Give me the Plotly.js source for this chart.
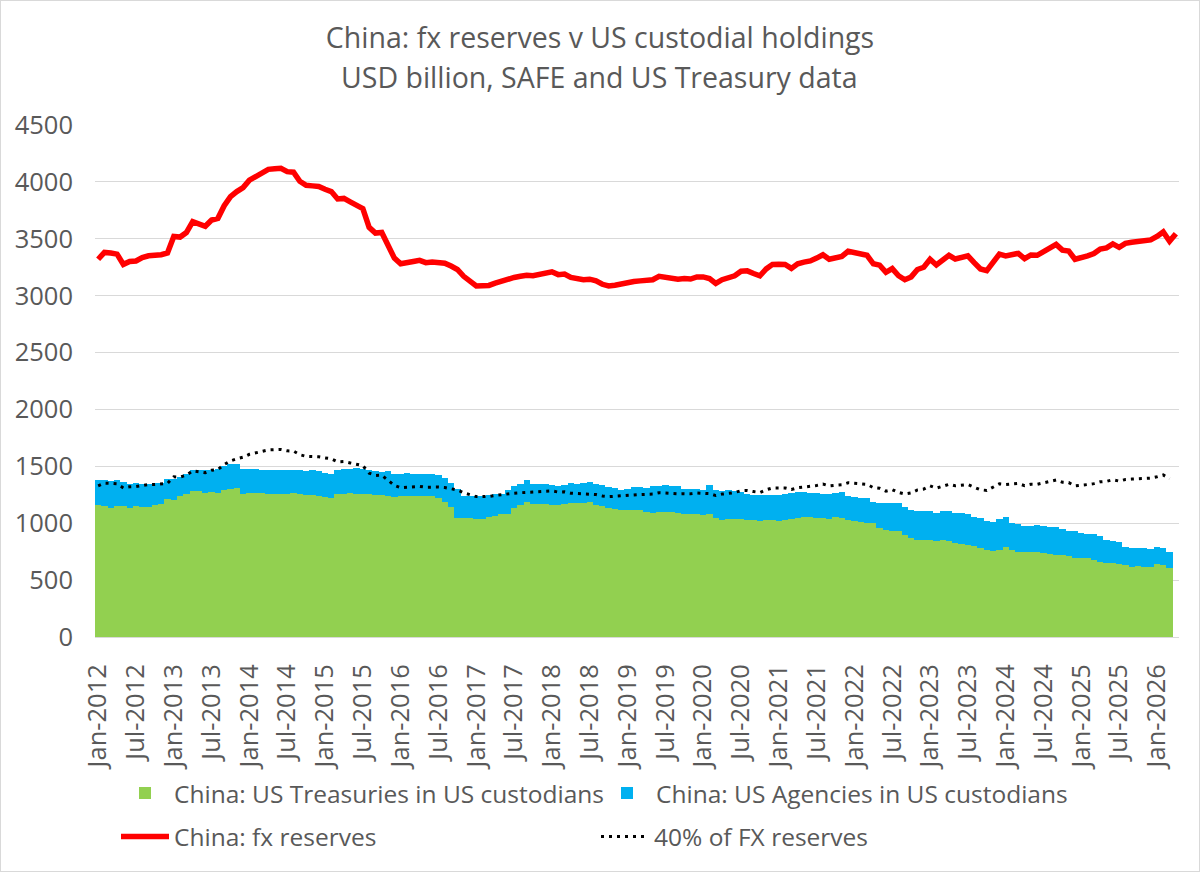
<!DOCTYPE html>
<html>
<head>
<meta charset="utf-8">
<script src="https://cdn.plot.ly/plotly-3.0.1.min.js"></script>
<style>
  html, body { margin: 0; padding: 0; background: #fff; }
  #chart { width: 1200px; height: 872px; box-sizing: border-box; border: 1px solid #d9d9d9; }
</style>
</head>
<body>
<div id="chart"></div>
<script>
// monthly, Jan-2012 .. Apr-2026 (bars and 40% line stop at Mar-2026)
const firstYear = 2012, nMonths = 172;
const monthNames = ['Jan','Feb','Mar','Apr','May','Jun','Jul','Aug','Sep','Oct','Nov','Dec'];

// China: fx reserves, USD bn
const fxReserves = [
  3320,3380,3375,3365,3275,3300,3305,3335,3350,3350,
  3360,3375,3520,3515,3555,3650,3630,3610,3665,3680,
  3790,3870,3915,3950,4015,4050,4080,4110,4115,4120,
  4090,4085,4005,3970,3965,3960,3935,3915,3850,3855,
  3825,3800,3765,3600,3550,3555,3450,3330,3280,3285,
  3300,3310,3290,3295,3295,3285,3260,3230,3170,3130,
  3085,3088,3090,3110,3130,3140,3160,3170,3180,3175,
  3190,3200,3210,3185,3190,3160,3150,3140,3145,3130,
  3100,3085,3092,3105,3115,3125,3130,3135,3140,3170,
  3160,3155,3145,3150,3146,3165,3165,3150,3108,3140,
  3155,3175,3215,3218,3195,3175,3235,3275,3276,3275,
  3240,3280,3295,3305,3330,3360,3320,3335,3345,3390,
  3380,3370,3355,3280,3268,3205,3238,3175,3140,3165,
  3230,3250,3320,3270,3310,3355,3322,3340,3350,3290,
  3235,3220,3295,3365,3350,3360,3372,3325,3358,3355,
  3390,3425,3450,3400,3392,3320,3330,3350,3370,3410,
  3420,3455,3425,3460,3470,3480,3480,3490,3520,3560,
  3478,3545
];

// 40% of FX reserves
const fortyPct = [
  1328,1352,1350,1346,1310,1320,1322,1334,1340,1340,
  1344,1350,1408,1406,1422,1460,1452,1444,1466,1472,
  1516,1548,1566,1580,1606,1620,1632,1644,1646,1648,
  1636,1634,1602,1588,1586,1584,1574,1566,1540,1542,
  1530,1520,1506,1440,1420,1422,1380,1332,1312,1314,
  1320,1324,1316,1318,1318,1314,1304,1292,1268,1252,
  1234,1235,1236,1244,1252,1256,1264,1268,1272,1270,
  1276,1280,1284,1274,1276,1264,1260,1256,1258,1252,
  1240,1234,1237,1242,1246,1250,1252,1254,1256,1268,
  1264,1262,1258,1260,1258,1266,1266,1260,1243,1256,
  1262,1270,1286,1287,1278,1270,1294,1310,1310,1310,
  1296,1312,1318,1322,1332,1344,1328,1334,1338,1356,
  1352,1348,1342,1312,1307,1282,1295,1270,1256,1266,
  1292,1300,1328,1308,1324,1342,1329,1336,1340,1316,
  1294,1288,1318,1346,1340,1344,1349,1330,1343,1342,
  1356,1370,1380,1360,1357,1328,1332,1340,1348,1364,
  1368,1382,1370,1384,1388,1392,1392,1396,1408,1424,
  1391
];

// China: US Treasuries in US custodians
const treasuries = [
  1163,1149,1134,1151,1149,1131,1151,1146,1146,1157,
  1172,1210,1201,1236,1260,1280,1283,1269,1275,1266,
  1289,1298,1310,1257,1266,1263,1263,1260,1260,1260,
  1260,1266,1260,1251,1245,1239,1231,1222,1254,1260,
  1263,1260,1260,1254,1245,1251,1239,1231,1239,1239,
  1236,1236,1236,1236,1222,1188,1140,1049,1049,1049,
  1040,1040,1055,1060,1078,1084,1137,1157,1187,1172,
  1172,1166,1163,1163,1172,1178,1178,1181,1184,1157,
  1151,1137,1128,1119,1116,1119,1113,1099,1093,1099,
  1102,1099,1090,1084,1078,1078,1069,1078,1046,1025,
  1040,1040,1037,1031,1025,1020,1025,1025,1020,1025,
  1040,1049,1058,1052,1049,1043,1038,1052,1043,1029,
  1023,1014,1006,1000,962,942,933,928,899,870,
  855,855,849,841,849,841,826,820,809,797,
  783,768,759,768,791,762,748,748,745,745,
  739,730,725,719,710,696,690,690,675,658,
  652,652,646,629,617,623,617,614,638,632,
  603
];

// China: US Agencies in US custodians
const agencies = [
  220,228,234,226,213,217,203,202,202,200,
  185,176,191,170,176,185,182,196,190,214,
  211,220,214,217,214,211,208,205,208,205,
  205,199,205,205,220,217,213,208,217,214,
  217,228,220,211,211,199,217,199,197,202,
  200,200,200,200,199,207,210,251,189,187,
  196,196,190,194,182,205,187,191,190,176,
  170,176,170,161,167,176,170,175,178,191,
  182,181,182,176,188,199,205,214,231,228,
  231,231,234,220,226,226,226,255,249,258,
  249,243,238,223,220,225,220,220,231,229,
  226,226,217,218,218,218,217,215,232,209,
  209,209,217,188,218,232,247,246,240,246,
  255,255,261,252,261,269,267,267,269,261,
  260,252,255,267,267,244,246,232,232,241,
  238,241,240,232,226,232,223,217,232,226,
  197,189,186,162,166,160,166,160,150,151,
  145
];

const titleLine1 = 'China: fx reserves v US custodial holdings';
const titleLine2 = 'USD billion, SAFE and US Treasury data';

let months = [];
for (let i = 0; i < nMonths; i++) {
    months.push(monthNames[i % 12] + '-' + (firstYear + Math.floor(i / 12)));
}
// labels every 6 months
let tickMonths = months.filter((m, i) => i % 6 === 0);

let txtColor = '#595959';
let fontFam = '"Open Sans", "DejaVu Sans", sans-serif';

let data = [
    {
        type: 'bar', x: months.slice(0, treasuries.length), y: treasuries,
        name: 'China: US Treasuries in US custodians',
        marker: {color: '#92D050', line: {width: 0}}
    },
    {
        type: 'bar', x: months.slice(0, agencies.length), y: agencies,
        name: 'China: US Agencies in US custodians',
        marker: {color: '#00B0F0', line: {width: 0}}
    },
    {
        type: 'scatter', mode: 'lines', x: months, y: fxReserves,
        name: 'China: fx reserves', legend: 'legend2',
        line: {color: '#FF0000', width: 5.5}
    },
    {
        type: 'scatter', mode: 'lines', x: months.slice(0, fortyPct.length), y: fortyPct,
        name: '40% of FX reserves', legend: 'legend2',
        line: {color: '#000000', width: 3, dash: '3px,5px'}
    }
];

let layout = {
    width: 1198, height: 870,
    margin: {l: 94, r: 20, t: 124, b: 230, pad: 0},
    paper_bgcolor: '#ffffff', plot_bgcolor: '#ffffff',
    font: {family: fontFam, size: 24, color: txtColor},
    title: {
        text: titleLine1,
        xref: 'container', x: 0.5, xanchor: 'center',
        yref: 'container', y: 1 - 37 / 870, yanchor: 'middle',
        font: {family: fontFam, size: 28.5, color: txtColor}
    },
    annotations: [{
        text: titleLine2, showarrow: false,
        xref: 'paper', x: (599 - 95) / 1084, xanchor: 'center',
        yref: 'paper', y: (640 - 77) / 515, yanchor: 'middle',
        font: {family: fontFam, size: 28.5, color: txtColor}
    }],
    barmode: 'stack', bargap: 0,
    xaxis: {
        type: 'category', range: [-0.5, nMonths - 0.5],
        tickmode: 'array', tickvals: tickMonths, ticktext: tickMonths,
        tickangle: -90, ticks: '', ticklabelstandoff: 16,
        tickfont: {size: 25.5},
        showgrid: false, zeroline: false,
        showline: true, linecolor: '#d9d9d9', linewidth: 1,
        automargin: false, fixedrange: true
    },
    yaxis: {
        range: [0, 4500], tick0: 0, dtick: 500,
        gridcolor: '#d9d9d9', gridwidth: 1,
        showline: false, zeroline: false, ticks: '', ticklabelstandoff: 21,
        tickfont: {size: 25.5}, automargin: false, fixedrange: true
    },
    showlegend: true,
    legend: {
        orientation: 'h', traceorder: 'normal', itemwidth: 48,
        xref: 'paper', x: (116 - 95) / 1084, xanchor: 'left',
        y: -0.305, yanchor: 'middle',
        entrywidthmode: 'pixels', entrywidth: 419,
        font: {size: 24.5, color: txtColor}, bgcolor: 'rgba(0,0,0,0)'
    },
    legend2: {
        orientation: 'h', traceorder: 'normal', itemwidth: 48,
        xref: 'paper', x: (116 - 95) / 1084, xanchor: 'left',
        y: -0.39, yanchor: 'middle',
        entrywidthmode: 'pixels', entrywidth: 417,
        font: {size: 24.5, color: txtColor}, bgcolor: 'rgba(0,0,0,0)'
    }
};

Plotly.newPlot('chart', data, layout, {displayModeBar: false, staticPlot: true});
</script>
</body>
</html>
